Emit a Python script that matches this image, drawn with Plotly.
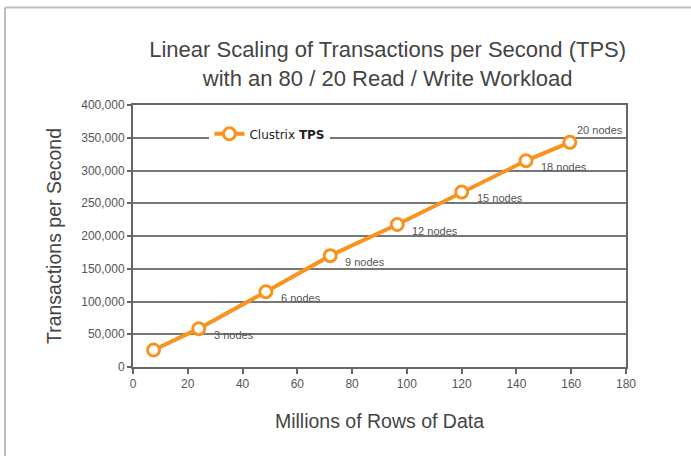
import plotly.graph_objects as go

rows_millions = [7.5, 24, 48.5, 72, 96.5, 120, 143.5, 159.5]
tps = [26000, 58500, 115000, 170000, 217500, 267000, 315000, 343000]
node_labels = ["", "3 nodes", "6 nodes", "9 nodes", "12 nodes", "15 nodes", "18 nodes", "20 nodes"]
x_ticks = [0, 20, 40, 60, 80, 100, 120, 140, 160, 180]
y_ticks = [0, 50000, 100000, 150000, 200000, 250000, 300000, 350000, 400000]

ORANGE = "#F7931E"
FONT = "Liberation Sans, Arial, sans-serif"

fig = go.Figure()
fig.add_trace(go.Scatter(
    x=rows_millions, y=tps, mode="lines+markers", name="Clustrix <b>TPS</b>",
    line=dict(color=ORANGE, width=4),
    marker=dict(symbol="circle", size=12, color="white", line=dict(color=ORANGE, width=3)),
    showlegend=True,
))

for i, (xv, yv, lab) in enumerate(zip(rows_millions, tps, node_labels)):
    if not lab:
        continue
    if i == len(rows_millions) - 1:
        xs, ys = 5, 12
    else:
        xs, ys = 13, -6
    fig.add_annotation(x=xv, y=yv, text=lab, showarrow=False, xanchor="left", yanchor="middle",
                       xshift=xs, yshift=ys, font=dict(family=FONT, size=11, color="#555"))

# outer light frame (left and top edges)
fig.add_shape(type="line", xref="paper", yref="paper", x0=-0.2597, x1=-0.2597, y0=-0.5, y1=1.372,
              line=dict(color="#BDBDBD", width=2))
fig.add_shape(type="line", xref="paper", yref="paper", x0=-0.2597, x1=1.2, y0=1.372, y1=1.372,
              line=dict(color="#BDBDBD", width=2))

fig.update_layout(
    width=691, height=456,
    margin=dict(l=133, r=65, t=105, b=89),
    paper_bgcolor="white", plot_bgcolor="white",
    title=dict(text="Linear Scaling of Transactions per Second (TPS)<br>with an 80 / 20 Read / Write Workload",
               x=0.561, xanchor="center", y=0.875, yanchor="middle",
               font=dict(family=FONT, size=22, color="#444")),
    legend=dict(x=0.155, y=0.89, xanchor="left", yanchor="middle", bgcolor="white",
                font=dict(family="DejaVu Sans, sans-serif", size=12, color="#222"),
                itemwidth=30, borderwidth=0),
    showlegend=True,
)
fig.update_xaxes(
    range=[0, 180], tickvals=x_ticks, ticks="outside", ticklen=5, tickcolor="#666", tickwidth=1.5,
    showgrid=False, zeroline=False, showline=True, linecolor="#666", linewidth=2, mirror=True,
    tickfont=dict(family=FONT, size=12, color="#555"),
    title=dict(text="Millions of Rows of Data", font=dict(family=FONT, size=19.5, color="#444"), standoff=24),
)
fig.update_yaxes(
    range=[0, 400000], tickvals=y_ticks, tickformat=",d", ticks="outside", ticklen=4, tickcolor="#666",
    tickwidth=1.5, showgrid=True, gridcolor="#777", gridwidth=1.5, zeroline=False,
    showline=True, linecolor="#666", linewidth=2, mirror=True,
    tickfont=dict(family=FONT, size=12, color="#555"),
    title=dict(text="Transactions per Second", font=dict(family=FONT, size=19.5, color="#444"), standoff=14),
)

fig.write_html("out.html", config={"displayModeBar": False},
               post_script="document.body.style.margin='0';")
